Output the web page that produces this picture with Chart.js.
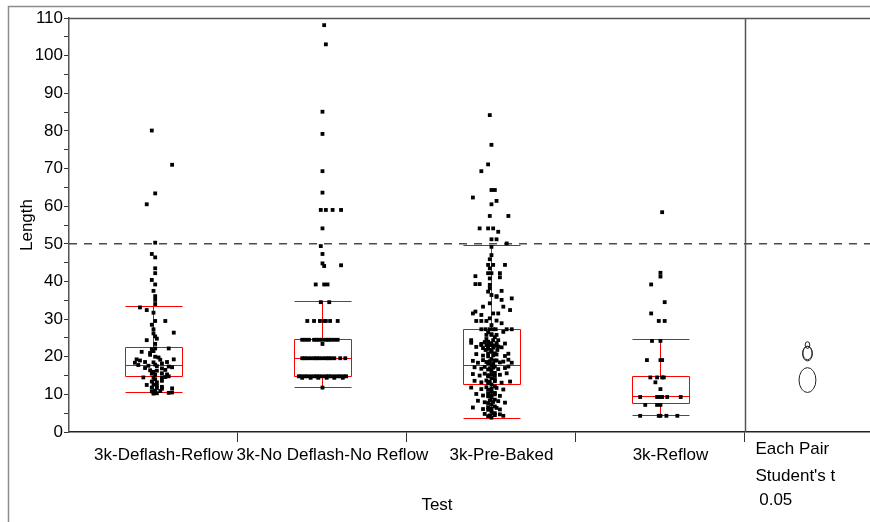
<!DOCTYPE html>
<html lang="en">
<head>
<meta charset="UTF-8">
<title>Length by Test</title>
<script src="https://cdn.jsdelivr.net/npm/chart.js"></script>
<style>
    * { margin: 0; padding: 0; box-sizing: border-box; }
    body { background: #fff; width: 870px; height: 522px; overflow: hidden; }
    #chart { display: block; }
</style>
</head>
<body>
<canvas id="chart" width="870" height="522"></canvas>
<script>
// categories and axis
const categories = ['3k-Deflash-Reflow', '3k-No Deflash-No Reflow', '3k-Pre-Baked', '3k-Reflow'];
const yMin = 0, yMax = 110, yStep = 5, yLabelStep = 10;
const refLine = 50;

// jittered observations: value + horizontal jitter (in category units)
const lenDeflash = [80.1, 71.0, 63.4, 60.5, 50.3, 47.3, 46.4, 43.5, 42.2, 40.4,
    39.2, 37.5, 36.1, 35.1, 34.0, 33.1, 32.4, 31.7, 29.5, 29.5,
    27.3, 26.2, 26.4, 25.4, 24.4, 23.4, 22.2, 22.2, 22.0, 21.3,
    20.5, 20.0, 19.8, 19.3, 19.0, 19.2, 19.3, 18.4, 18.6, 18.5,
    18.2, 18.6, 17.8, 17.6, 17.9, 17.5, 17.4, 17.0, 16.9, 17.2,
    16.4, 16.0, 16.3, 16.5, 15.5, 15.2, 15.6, 15.3, 14.8, 14.5,
    14.4, 14.0, 14.5, 14.6, 13.4, 13.2, 13.6, 12.5, 12.6, 12.3,
    12.0, 11.8, 11.7, 11.5, 11.6, 10.8, 10.6, 11.0, 10.9, 10.4,
    10.5, 10.2, 10.3, 21.0, 21.5, 24.8, 28.5];
const jitDeflash = [-0.01, 0.11, 0.01, -0.04, 0.01, -0.01, 0.01, 0.01, 0.01, -0.01,
    0.01, 0, 0.01, 0.01, 0.01, -0.08, -0.04, 0, 0.01, 0.07,
    0, 0, 0.12, 0.01, -0.04, 0.01, 0.01, 0.09, -0.01, -0.07,
    -0.02, 0.01, 0.03, -0.10, -0.08, 0.04, 0.12, -0.11, -0.05, 0,
    0.05, 0.08, -0.09, -0.03, 0.01, 0.02, 0.09, -0.05, 0.05, 0.11,
    -0.02, 0, 0.02, 0.07, -0.01, 0.01, 0.05, 0.08, 0.09, -0.06,
    0, 0.01, 0.05, 0.07, -0.01, 0.02, 0.05, -0.04, 0, 0.02,
    0.05, -0.01, 0.02, 0.05, 0.11, -0.01, 0, 0.01, 0.04, 0.09,
    0.11, 0, 0.02, -0.02, 0, 0.02, -0.01];

const lenNoDeflash = [108.1, 103.0, 85.1, 79.2, 69.3, 63.6, 59.0, 59.0, 59.0, 59.0,
    54.1, 49.4, 47.3, 44.8, 44.1, 44.3, 39.2, 39.2, 39.2, 34.5, 34.5,
    29.5, 29.5, 29.5, 29.5, 29.5, 29.5, 29.5,
    24.5, 24.5, 24.5, 24.5, 24.5, 24.5, 24.5, 24.5, 24.5, 24.5, 24.5, 24.5,
    23.4,
    19.6, 19.6, 19.6, 19.6, 19.6, 19.6, 19.6, 19.6, 19.6, 19.6, 19.6, 19.6, 19.6, 19.6,
    14.8, 14.8, 14.8, 14.8, 14.8, 14.8, 14.8, 14.8, 14.8, 14.8, 14.8, 14.8, 14.8, 14.8, 14.8, 14.8, 14.8,
    14.4, 14.4, 14.4, 14.4, 14.4, 14.4,
    11.8];
const jitNoDeflash = [0.01, 0.02, 0, 0, 0, 0, -0.01, 0.02, 0.06, 0.11,
    0, -0.01, 0, 0, 0.01, 0.11, -0.04, 0.01, 0.03, -0.01, 0.04,
    -0.09, -0.05, -0.015, 0.01, 0.02, 0.045, 0.09,
    -0.12, -0.10, -0.08, -0.05, -0.035, -0.02, 0, 0.02, 0.035, 0.05, 0.07, 0.09,
    0,
    -0.12, -0.105, -0.09, -0.07, -0.05, -0.035, -0.02, 0, 0.02, 0.035, 0.05, 0.07, 0.105, 0.135,
    -0.14, -0.125, -0.105, -0.09, -0.07, -0.05, -0.035, -0.02, 0, 0.02, 0.035, 0.05, 0.07, 0.09, 0.105, 0.125, 0.14,
    -0.12, -0.07, -0.025, 0.025, 0.07, 0.12,
    0];

const lenPreBaked = [84.2, 76.3, 71.1, 69.3, 64.3, 64.3, 62.3, 61.4, 60.5, 57.4,
    57.4, 54.1, 54.1, 54.1, 53.2, 51.2, 51.2, 50.1, 49.2, 47.0,
    45.9, 44.4, 44.4, 44.4, 43.5, 42.2, 42.2, 42.2, 41.4, 40.8,
    41.1, 39.3, 39.3, 39.1, 38.2, 37.3, 37.5, 36.1, 35.5,
    36.4, 35.9, 35.1, 34.2, 33.3, 33.3, 32.0, 31.5, 31.1, 31.5,
    31.5, 32.4, 30.2, 29.5, 29.5, 29.5, 29.6, 28.9, 28.4,
    27.3, 27.3, 27.3, 27.3, 27.3, 26.6, 27.3, 27.3, 25.8, 25.8,
    25.8, 24.4, 24.7, 24.4, 24.4, 23.1, 23.1, 23.1, 23.1, 21.8,
    21.8, 21.8,
    23.7, 23.4, 23.9, 23.3, 23.6, 23.5,
    22.6, 22.3, 22.8, 22.4, 22.7, 22.5,
    20.7, 20.3, 20.9, 20.4, 20.6, 20.2, 20.8,
    18.9, 18.4, 19.1, 18.6, 18.8, 18.3, 19.0, 18.5, 18.7, 19.2, 18.4,
    17.2, 16.8, 17.3, 16.9, 17.1, 16.7, 17.0, 17.4,
    15.4, 15.0, 15.5, 15.1, 15.3, 14.9, 15.2, 15.6,
    13.6, 13.2, 13.7, 13.3, 13.5, 13.1, 13.4,
    11.8, 11.4, 11.9, 11.5, 11.7, 11.3,
    10.1, 9.7, 10.2, 9.8, 10.0, 9.6,
    8.3, 7.9, 8.4, 8.0, 8.2, 7.8,
    6.5, 6.1, 6.6, 6.2, 6.4, 6.0,
    4.8, 4.4, 4.9, 4.5, 4.7, 4.3,
    26.5, 26.0, 25.2, 24.0, 23.6, 22.9, 22.1, 21.3, 20.9, 20.1,
    19.4, 19.0, 18.3, 17.8, 17.4, 16.6, 16.2, 15.7, 14.8, 14.3,
    13.9, 13.0, 12.6, 12.1, 11.2, 10.8, 10.4, 9.5, 9.1, 8.6,
    7.7, 7.3, 6.8, 5.9, 5.4, 5.0, 4.2, 3.8];
const jitPreBaked = [-0.01, 0, -0.02, -0.06, 0, 0.02, -0.11, 0.03, 0, -0.01,
    0.10, -0.07, -0.02, 0.01, 0.04, 0, 0.03, 0.09, 0, 0,
    -0.01, -0.02, 0.01, 0.08, -0.01, -0.02, 0, 0.05, -0.095, -0.01,
    0.05, -0.095, -0.07, -0.01, -0.01, -0.02, 0.06, 0.03, 0.12,
    0, 0.03, 0.06, -0.01, -0.05, 0.07, -0.095, -0.11, -0.06, 0.01,
    0.04, 0.11, -0.01, -0.09, -0.06, -0.03, 0.03, 0.06, 0,
    -0.06, -0.035, -0.01, 0.01, 0.025, 0.07, 0.09, 0.12, -0.03, 0,
    0.03, -0.12, -0.03, 0.01, 0.04, -0.06, -0.03, 0, 0.03, -0.035,
    0, 0.035,
    -0.12, -0.06, -0.04, -0.01, 0.03, 0.08,
    -0.09, -0.05, -0.02, 0.01, 0.04, 0.06,
    -0.09, -0.05, -0.02, 0.01, 0.03, 0.08, 0.10,
    -0.11, -0.08, -0.05, -0.03, -0.01, 0.01, 0.03, 0.05, 0.07, 0.10, 0.12,
    -0.10, -0.06, -0.04, -0.01, 0.01, 0.04, 0.08, 0.10,
    -0.11, -0.07, -0.04, -0.02, 0, 0.02, 0.05, 0.09,
    -0.10, -0.06, -0.03, -0.01, 0.02, 0.06, 0.11,
    -0.12, -0.06, -0.03, 0, 0.03, 0.07,
    -0.09, -0.05, -0.02, 0, 0.02, 0.05,
    -0.08, -0.04, -0.01, 0.01, 0.04, 0.08,
    -0.11, -0.05, -0.02, 0, 0.03, 0.05,
    -0.04, -0.01, 0.01, 0.02, 0.05, 0.07,
    -0.02, 0, 0.02, -0.02, 0, 0.02, -0.02, 0, 0.02, -0.02,
    0, 0.02, -0.02, 0, 0.02, -0.02, 0, 0.02, -0.02, 0,
    0.02, -0.02, 0, 0.02, -0.02, 0, 0.02, -0.02, 0, 0.02,
    -0.02, 0, 0.02, -0.02, 0, 0.02, -0.02, 0];

const lenReflow = [58.4, 42.3, 41.3, 39.2, 34.5, 31.5, 29.5, 29.5, 24.2, 24.2,
    19.1, 19.1, 19.1, 14.5, 14.5, 14.5, 14.5, 13.2, 11.4, 9.3,
    9.3, 9.3, 9.3, 9.3, 9.3, 7.2, 7.2, 7.2, 4.3, 4.3,
    4.3, 4.3, 4.3];
const jitReflow = [0.01, 0, 0, -0.055, 0.025, -0.055, -0.01, 0.025, -0.05, 0,
    -0.08, 0, 0.01, -0.06, -0.02, 0.01, 0.02, -0.03, 0, -0.12,
    -0.02, 0, 0.01, 0.04, 0.12, -0.09, -0.02, 0, -0.12, -0.01,
    0, 0.035, 0.10];

// box plot summaries per category
const boxLow = [10.6, 11.9, 3.8, 4.5];
const boxQ1 = [14.9, 14.8, 12.7, 7.6];
const boxMedian = [17.9, 19.6, 17.8, 9.6];
const boxQ3 = [22.5, 24.6, 27.5, 14.8];
const boxHigh = [33.6, 34.9, 49.8, 24.6];

// comparison circles (Each Pair, Student's t, 0.05)
const circleMean = [20.8, 21.0, 23.1, 13.8];
const circleRadius = [1.9, 1.8, 0.9, 3.3];

const lengths = [lenDeflash, lenNoDeflash, lenPreBaked, lenReflow];
const jitters = [jitDeflash, jitNoDeflash, jitPreBaked, jitReflow];

const points = [];
lengths.forEach((vals, c) => {
    vals.forEach((v, k) => points.push({ x: c + 1 + jitters[c][k], y: v }));
});

const FONT = "'Liberation Sans', Arial, sans-serif";
const xMin = 0.5, xMax = 5.24, panelStart = 4.5, circleX = 4.87;
const boxHalf = 0.17;

const jmpLayer = {
    id: 'jmpLayer',
    beforeDraw(chart) {
        const { ctx, width, height } = chart;
        ctx.save();
        ctx.fillStyle = '#fff';
        ctx.fillRect(0, 0, width, height);
        ctx.strokeStyle = '#8c8c8c';
        ctx.lineWidth = 1.5;
        ctx.beginPath();
        ctx.moveTo(8.5, height);
        ctx.lineTo(8.5, 6.5);
        ctx.lineTo(width, 6.5);
        ctx.stroke();
        ctx.restore();
    },
    afterDatasetDraw(chart, args) {
        if (args.index !== 1) return;
        const { ctx, scales: { x, y } } = chart;
        const snap = v => Math.round(v) + 0.5;
        ctx.save();
        ctx.strokeStyle = '#ff0000';
        ctx.lineWidth = 1;
        categories.forEach((c, i) => {
            const l = snap(x.getPixelForValue(i + 1 - boxHalf));
            const r = snap(x.getPixelForValue(i + 1 + boxHalf));
            const m = snap(x.getPixelForValue(i + 1));
            const yl = snap(y.getPixelForValue(boxLow[i]));
            const y1 = snap(y.getPixelForValue(boxQ1[i]));
            const ym = snap(y.getPixelForValue(boxMedian[i]));
            const y3 = snap(y.getPixelForValue(boxQ3[i]));
            const yh = snap(y.getPixelForValue(boxHigh[i]));
            ctx.beginPath();
            ctx.rect(l, y3, r - l, y1 - y3);
            ctx.moveTo(l, ym); ctx.lineTo(r, ym);
            ctx.moveTo(m, y3); ctx.lineTo(m, yh);
            ctx.moveTo(m, y1); ctx.lineTo(m, yl);
            ctx.moveTo(l, yh); ctx.lineTo(r, yh);
            ctx.moveTo(l, yl); ctx.lineTo(r, yl);
            ctx.stroke();
        });
        ctx.restore();
    },
    afterDatasetsDraw(chart) {
        const { ctx, chartArea: a, scales: { x, y } } = chart;
        ctx.save();
        // frame top and panel separator
        ctx.strokeStyle = '#555';
        ctx.lineWidth = 1.5;
        ctx.beginPath();
        ctx.moveTo(a.left, a.top + 0.5);
        ctx.lineTo(a.right, a.top + 0.5);
        const sx = Math.round(x.getPixelForValue(panelStart)) + 0.5;
        ctx.moveTo(sx, a.top);
        ctx.lineTo(sx, a.bottom);
        ctx.stroke();

        // comparison circles
        const cx = x.getPixelForValue(circleX);
        ctx.strokeStyle = '#222';
        ctx.lineWidth = 1;
        circleMean.forEach((mu, i) => {
            const cy = y.getPixelForValue(mu);
            const ry = Math.abs(y.getPixelForValue(mu + circleRadius[i]) - cy);
            ctx.beginPath();
            ctx.ellipse(cx, cy, ry * 0.68, ry, 0, 0, Math.PI * 2);
            ctx.stroke();
        });

        // texts
        ctx.fillStyle = '#000';
        ctx.font = '17px ' + FONT;
        ctx.textBaseline = 'middle';
        ctx.textAlign = 'left';
        ctx.fillText('Each Pair', sx + 10, a.bottom + 17);
        ctx.fillText("Student's t", sx + 10, a.bottom + 44);
        ctx.fillText(' 0.05', sx + 9, a.bottom + 68);
        ctx.textAlign = 'center';
        ctx.fillText('Test', 437, a.bottom + 73);
        ctx.restore();
    }
};

new Chart(document.getElementById('chart'), {
    data: {
        datasets: [
            {
                type: 'scatter',
                data: points,
                pointStyle: 'rect',
                pointRadius: 2.7,
                pointBorderWidth: 0,
                backgroundColor: '#000',
                borderColor: '#000',
                order: 0
            },
            {
                type: 'line',
                data: [{ x: xMin, y: refLine }, { x: xMax, y: refLine }],
                borderColor: '#4a4a4a',
                borderWidth: 1.5,
                borderDash: [8, 7],
                pointRadius: 0,
                order: 1
            }
        ]
    },
    options: {
        responsive: false,
        animation: false,
        devicePixelRatio: 1,
        layout: { autoPadding: false, padding: { top: 18, left: 0, right: 0, bottom: 0 } },
        plugins: { legend: { display: false }, tooltip: { enabled: false } },
        scales: {
            x: {
                type: 'linear',
                min: xMin,
                max: xMax,
                afterBuildTicks: s => {
                    s.ticks = [1, 1.5, 2, 2.5, 3, 3.5, 4, 4.5].map(v => ({ value: v }));
                },
                afterFit: s => {
                    s.height = 90;
                    s.paddingLeft = 0;
                    s.paddingRight = 0;
                },
                grid: {
                    drawOnChartArea: false,
                    tickLength: 10,
                    tickColor: ctx => (ctx.tick && !Number.isInteger(ctx.tick.value)) ? '#333' : 'rgba(0,0,0,0)'
                },
                border: { color: '#222', width: 1.5 },
                ticks: {
                    autoSkip: false,
                    maxRotation: 0,
                    minRotation: 0,
                    padding: 3,
                    labelOffset: 10,
                    color: '#000',
                    font: { family: FONT, size: 17 },
                    callback: v => Number.isInteger(v) ? categories[v - 1] : ''
                }
            },
            y: {
                min: yMin,
                max: yMax,
                afterFit: s => {
                    s.width = 69;
                    s.paddingTop = 0;
                    s.paddingBottom = 0;
                },
                grid: { drawOnChartArea: false, tickLength: 5, tickColor: '#333' },
                border: { color: '#555', width: 1.5 },
                ticks: {
                    stepSize: yStep,
                    autoSkip: false,
                    padding: 1,
                    color: '#000',
                    font: { family: FONT, size: 17 },
                    callback: v => v % yLabelStep === 0 ? v : ''
                },
                title: {
                    display: true,
                    text: 'Length',
                    color: '#000',
                    font: { family: FONT, size: 17 },
                    padding: { top: 17, bottom: 0 }
                }
            }
        }
    },
    plugins: [jmpLayer]
});
</script>
</body>
</html>
